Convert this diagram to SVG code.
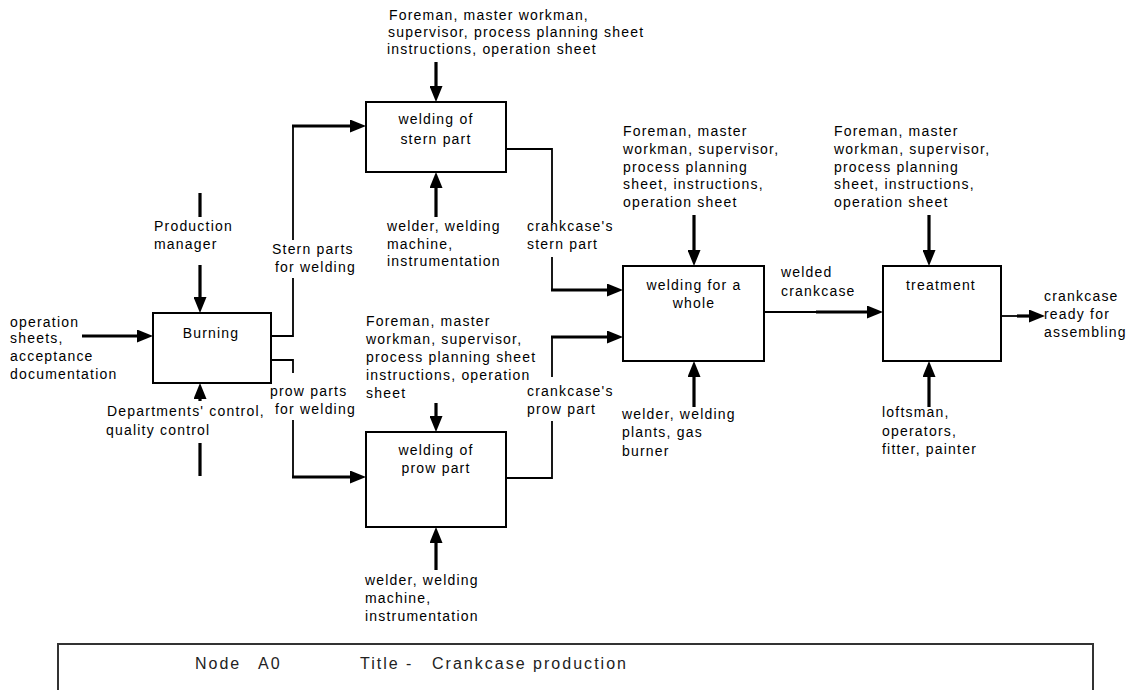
<svg xmlns="http://www.w3.org/2000/svg" width="1131" height="690" viewBox="0 0 1131 690">
<style>
text{font-family:"Liberation Sans",Arial,sans-serif;font-size:14px;letter-spacing:1.2px;fill:#000}
.c{text-anchor:middle}
.box{fill:#fff;stroke:#000;stroke-width:2}
.thin{fill:none;stroke:#000;stroke-width:1.8}
.thick{fill:none;stroke:#000;stroke-width:3.2}
.arr{marker-end:url(#ah)}
.ttl{font-size:16px;letter-spacing:2px;fill:#222}
</style>
<defs>
<marker id="ah" markerUnits="userSpaceOnUse" markerWidth="16" markerHeight="13" refX="3" refY="6.5" orient="auto">
<path d="M0,0 L16,6.5 L0,13 z" fill="#000"/>
</marker>
</defs>
<rect width="1131" height="690" fill="#fff"/>

<g id="connectors">
<path class="thick arr" d="M436,62 V89"/>
<path class="thick" d="M200,193 V217"/>
<path class="thick arr" d="M200,265 V300"/>
<path class="thick arr" d="M436,403 V419"/>
<path class="thick arr" d="M694,215 V253"/>
<path class="thick arr" d="M929,215 V253"/>
<path class="thick arr" d="M436,217 V185"/>
<path class="thick" d="M200,476 V443"/>
<path class="thick arr" d="M200,401 V396"/>
<path class="thick arr" d="M436,570 V540"/>
<path class="thick arr" d="M694,407 V374"/>
<path class="thick arr" d="M929,407 V374"/>
<path class="thick arr" d="M82,336 H140"/>
<path class="thin" d="M271,336 H293 V278"/>
<path class="thin" d="M293,240 V126"/>
<path class="thick arr" d="M292,126 H353"/>
<path class="thin" d="M271,360 H293 V373"/>
<path class="thin" d="M293,420 V477"/>
<path class="thick arr" d="M292,477 H353"/>
<path class="thin" d="M506,149 H552 V223"/>
<path class="thin" d="M552,257 V290"/>
<path class="thick arr" d="M551,290 H610"/>
<path class="thin" d="M506,478 H552 V421"/>
<path class="thin" d="M552,377 V337"/>
<path class="thick arr" d="M551,337 H610"/>
<path class="thin" d="M764,312 H817"/>
<path class="thick arr" d="M816,312 H870"/>
<path class="thin" d="M1001,316 H1018"/>
<path class="thick arr" d="M1017,316 H1032"/>
</g>

<g id="burning">
<rect class="box" x="153" y="313" width="118" height="70"/>
<text class="c" x="211" y="338">Burning</text>
</g>
<g id="welding-stern">
<rect class="box" x="366" y="102" width="140" height="70"/>
<text class="c" x="436" y="124">welding of</text>
<text class="c" x="436" y="144">stern part</text>
</g>
<g id="welding-prow">
<rect class="box" x="366" y="432" width="140" height="95"/>
<text class="c" x="436" y="455">welding of</text>
<text class="c" x="436" y="473">prow part</text>
</g>
<g id="welding-whole">
<rect class="box" x="623" y="266" width="141" height="95"/>
<text class="c" x="694" y="290">welding for a</text>
<text class="c" x="694" y="308">whole</text>
</g>
<g id="treatment">
<rect class="box" x="883" y="266" width="118" height="95"/>
<text class="c" x="941" y="290">treatment</text>
</g>

<g id="labels">
<text x="388" y="20"><tspan x="389">Foreman, master workman,</tspan><tspan x="388" y="37">supervisor, process planning sheet</tspan><tspan x="387" y="54">instructions, operation sheet</tspan></text>
<text x="387" y="231"><tspan x="387">welder, welding</tspan><tspan x="387" y="249">machine,</tspan><tspan x="387" y="266">instrumentation</tspan></text>
<text x="154" y="231"><tspan x="154">Production</tspan><tspan x="154" y="249">manager</tspan></text>
<text x="272" y="254"><tspan x="272">Stern parts</tspan><tspan x="275" y="272">for welding</tspan></text>
<text x="270" y="396"><tspan x="270">prow parts</tspan><tspan x="275" y="414">for welding</tspan></text>
<text x="10" y="327"><tspan x="10">operation</tspan><tspan x="10" y="343">sheets,</tspan><tspan x="10" y="361">acceptance</tspan><tspan x="10" y="379">documentation</tspan></text>
<text x="107" y="416"><tspan x="107">Departments' control,</tspan><tspan x="106" y="435">quality control</tspan></text>
<text x="366" y="326"><tspan x="366">Foreman, master</tspan><tspan x="366" y="344">workman, supervisor,</tspan><tspan x="366" y="362">process planning sheet</tspan><tspan x="366" y="380">instructions, operation</tspan><tspan x="366" y="398">sheet</tspan></text>
<text x="365" y="585"><tspan x="365">welder, welding</tspan><tspan x="365" y="603">machine,</tspan><tspan x="365" y="621">instrumentation</tspan></text>
<text x="527" y="231"><tspan x="527">crankcase's</tspan><tspan x="527" y="249">stern part</tspan></text>
<text x="527" y="396"><tspan x="527">crankcase's</tspan><tspan x="527" y="414">prow part</tspan></text>
<text x="623" y="136"><tspan x="623">Foreman, master</tspan><tspan x="623" y="154">workman, supervisor,</tspan><tspan x="623" y="172">process planning</tspan><tspan x="623" y="189">sheet, instructions,</tspan><tspan x="623" y="207">operation sheet</tspan></text>
<text x="622" y="419"><tspan x="622">welder, welding</tspan><tspan x="622" y="437">plants, gas</tspan><tspan x="622" y="456">burner</tspan></text>
<text x="781" y="277"><tspan x="781">welded</tspan><tspan x="781" y="296">crankcase</tspan></text>
<text x="834" y="136"><tspan x="834">Foreman, master</tspan><tspan x="834" y="154">workman, supervisor,</tspan><tspan x="834" y="172">process planning</tspan><tspan x="834" y="189">sheet, instructions,</tspan><tspan x="834" y="207">operation sheet</tspan></text>
<text x="882" y="417"><tspan x="882">loftsman,</tspan><tspan x="882" y="436">operators,</tspan><tspan x="882" y="454">fitter, painter</tspan></text>
<text x="1044" y="301"><tspan x="1044">crankcase</tspan><tspan x="1044" y="319">ready for</tspan><tspan x="1044" y="337">assembling</tspan></text>
</g>

<g id="title-block">
<rect x="58" y="644" width="1035" height="50" fill="#fff" stroke="#333" stroke-width="2"/>
<text class="ttl" x="195" y="669">Node</text>
<text class="ttl" x="258" y="669">A0</text>
<text class="ttl" x="360" y="669">Title -</text>
<text class="ttl" x="432" y="669" textLength="196" lengthAdjust="spacing">Crankcase production</text>
</g>
</svg>
